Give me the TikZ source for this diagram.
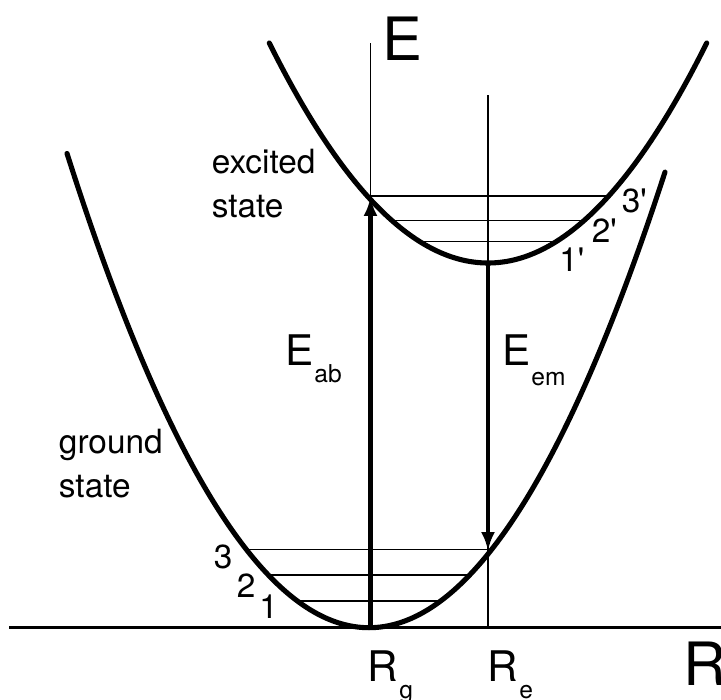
\documentclass[tikz,border=0pt]{standalone}
\usepackage{fontspec}
\setmainfont{TeX Gyre Heros}
\usetikzlibrary{arrows.meta, positioning}

\begin{document}
\begin{tikzpicture}[x=0.02cm, y=-0.02cm,
    curve/.style={line width=2.9pt, line cap=round},
    axis/.style={line width=1.4pt},
    level/.style={line width=0.7pt},
    transition/.style={line width=2.3pt, -{Latex[length=0.38cm,width=0.28cm]}},
    statetext/.style={inner sep=0pt, anchor=base west, align=left, font=\fontsize{19}{24.5}\selectfont},
    axislabel/.style={inner sep=0pt, anchor=base west, font=\fontsize{34}{34}\selectfont},
    energy/.style={inner sep=0pt, anchor=base west, font=\fontsize{24}{24}\selectfont},
    subtext/.style={inner sep=0pt, anchor=base west, font=\fontsize{14}{14}\selectfont}
  ]
    \useasboundingbox (0,0) rectangle (721,700);

    % axes and reference positions
    \coordinate (origin) at (9,627.7);
    \coordinate (Rend) at (721,627.7);
    \coordinate (Rg) at (370.5,627.7);
    \coordinate (Etop) at (370.5,43);
    \coordinate (Re) at (488,627.7);
    \coordinate (Retop) at (488,95);
    \coordinate (abstip) at (370.5,197);
    \coordinate (emstart) at (488,263);
    \coordinate (emtip) at (488,551);

    % vibrational levels
    \draw[level] (246.2,549.3) -- (488,549.3);
    \draw[level] (268.3,575) -- (469.7,575);
    \draw[level] (297.3,601) -- (440.7,601);
    \draw[level] (370.5,196) -- (608.7,196);
    \draw[level] (391.7,220.3) -- (584.3,220.3);
    \draw[level] (420,241.7) -- (556,241.7);

    \draw[axis] (origin) -- (Rend);
    \draw[level] (Rg) -- (Etop);
    \draw[level] (Re) -- (Retop);

    \draw[transition] (Rg) -- (abstip);
    \draw[transition] (emstart) -- (emtip);

    % potential curves
    \draw[curve] plot[domain=67:665, samples=100, smooth] (\x, {627.7-52*((\x-369)/100)*((\x-369)/100)});
    \draw[curve] plot[domain=269.3:706.7, samples=100, smooth] (\x, {263-46*((\x-488)/100)*((\x-488)/100)});

    % labels
    \node[axislabel] (Elabel) at (382,60) {E};
    \node[axislabel] (Rlabel) at (683,685) {R};
    \node[energy] (Eab) at (285,365) {E};
    \node[subtext] (Eabsub) at (314,382) {ab};
    \node[energy] (Eem) at (502,365) {E};
    \node[subtext] (Eemsub) at (531,385) {em};
    \node[energy] (Rglabel) at (367,681) {R};
    \node[subtext] (Rgsub) at (399,698) {g};
    \node[energy] (Relabel) at (487,681) {R};
    \node[subtext] (Resub) at (519,698) {e};

    \node[statetext] (excited) at (211.5,217) {excited\\state};
    \node[statetext] (ground) at (58.6,497) {ground\\state};

    \node[statetext] (g3) at (213.5,568) {3};
    \node[statetext] (g2) at (236.5,597) {2};
    \node[statetext] (g1) at (259,618) {1};
    \node[statetext] (e3) at (621.5,212) {3\textquotesingle};
    \node[statetext] (e2) at (591.5,242) {2\textquotesingle};
    \node[statetext] (e1) at (559,271) {1\textquotesingle};
  \end{tikzpicture}
\end{document}
